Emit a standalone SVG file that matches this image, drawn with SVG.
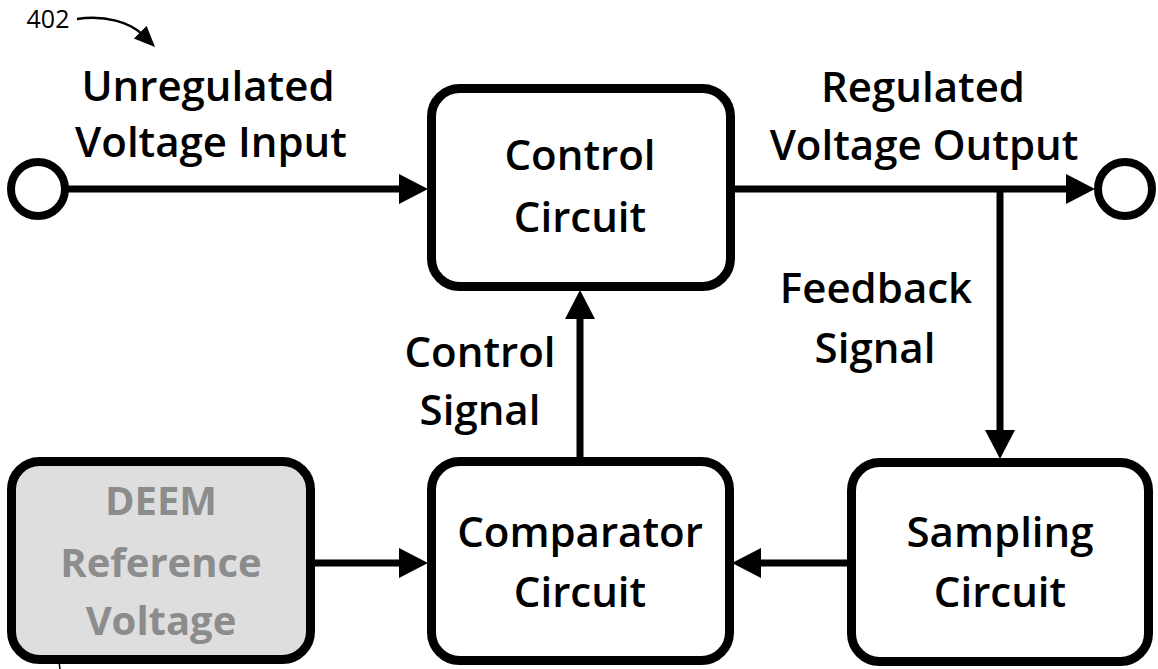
<svg xmlns="http://www.w3.org/2000/svg" width="1158" height="669" viewBox="0 0 1158 669">
<style>
.box{fill:#fff;stroke:#000;stroke-width:9}
.deem{fill:#dedede;stroke:#000;stroke-width:9}
.lbl{font-family:"Open Sans","Liberation Sans",sans-serif;font-size:42px;font-weight:600;fill:#000;text-anchor:middle}
.dl{font-family:"Open Sans","Liberation Sans",sans-serif;font-size:40px;font-weight:bold;fill:#8c8c8c;text-anchor:middle}
.wire{fill:none;stroke:#000;stroke-width:7}
.term{fill:#fff;stroke:#000;stroke-width:8}
</style>
<defs>
<marker id="ah" markerUnits="userSpaceOnUse" markerWidth="30" markerHeight="32" refX="8" refY="16" orient="auto">
<path d="M0,1 L29,16 L0,31 z" fill="#000"/>
</marker>
<marker id="sm" markerUnits="userSpaceOnUse" markerWidth="22" markerHeight="20" refX="4" refY="10" orient="auto">
<path d="M0,1 L21,10 L0,19 z" fill="#000"/>
</marker>
</defs>
<rect width="1158" height="669" fill="#fff"/>

<g id="ref402">
<text x="48" y="28" font-family="Open Sans, Liberation Sans, sans-serif" font-size="25" text-anchor="middle" fill="#000">402</text>
<path d="M77,19 C105,15 130,22 143,35" fill="none" stroke="#000" stroke-width="2.5" marker-end="url(#sm)"/>
</g>

<g id="connectors">
<line class="wire" x1="64" y1="189" x2="407" y2="189" marker-end="url(#ah)"/>
<line class="wire" x1="735" y1="189" x2="1074" y2="189" marker-end="url(#ah)"/>
<line class="wire" x1="1000" y1="186" x2="1000" y2="438" marker-end="url(#ah)"/>
<line class="wire" x1="580" y1="457" x2="580" y2="311" marker-end="url(#ah)"/>
<line class="wire" x1="315" y1="563" x2="407" y2="563" marker-end="url(#ah)"/>
<line class="wire" x1="847" y1="563" x2="753" y2="563" marker-end="url(#ah)"/>
<path d="M53,625 C56,640 58,655 60,669" fill="none" stroke="#000" stroke-width="1.5"/>
</g>

<g id="input">
<circle class="term" cx="38" cy="189" r="27"/>
<text class="lbl" x="208" y="101">Unregulated</text>
<text class="lbl" x="211" y="157">Voltage Input</text>
</g>

<g id="output">
<circle class="term" cx="1125" cy="189" r="27"/>
<text class="lbl" x="923" y="102">Regulated</text>
<text class="lbl" x="924" y="160">Voltage Output</text>
</g>

<g id="control">
<rect class="box" x="431.5" y="88.5" width="299" height="198" rx="28"/>
<text class="lbl" x="580" y="170">Control</text>
<text class="lbl" x="580" y="232">Circuit</text>
</g>

<g id="control-signal">
<text class="lbl" x="480" y="367">Control</text>
<text class="lbl" x="480" y="425">Signal</text>
</g>

<g id="feedback-signal">
<text class="lbl" x="876" y="303">Feedback</text>
<text class="lbl" x="875" y="363">Signal</text>
</g>

<g id="deem">
<rect class="deem" x="11.5" y="461.5" width="299" height="198" rx="28"/>
<text class="dl" x="161" y="515">DEEM</text>
<text class="dl" x="161" y="577">Reference</text>
<text class="dl" x="161" y="635">Voltage</text>
</g>

<g id="comparator">
<rect class="box" x="431.5" y="461.5" width="298" height="199" rx="28"/>
<text class="lbl" x="580" y="547">Comparator</text>
<text class="lbl" x="580" y="607">Circuit</text>
</g>

<g id="sampling">
<rect class="box" x="851.5" y="462.5" width="297" height="199" rx="28"/>
<text class="lbl" x="1000" y="547">Sampling</text>
<text class="lbl" x="1000" y="607">Circuit</text>
</g>
</svg>
